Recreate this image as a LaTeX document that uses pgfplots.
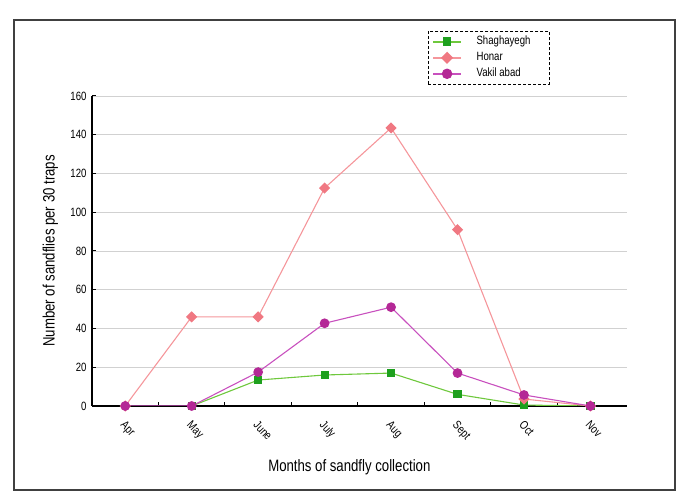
\documentclass[border=0pt]{standalone}
\usepackage{pgfplots}
\pgfplotsset{compat=1.18}
\usepackage{fontspec}
\setmainfont{Liberation Sans}[FakeStretch=0.8]
\definecolor{shagline}{RGB}{110,200,60}
\definecolor{shagmark}{RGB}{30,160,30}
\definecolor{honline}{RGB}{245,150,155}
\definecolor{honmark}{RGB}{240,120,130}
\definecolor{vakline}{RGB}{200,80,190}
\definecolor{vakmark}{RGB}{180,40,150}
\begin{document}
\begin{tikzpicture}[x=1pt,y=1pt]
\useasboundingbox (0,0) rectangle (689,504);
\draw[line width=1.3pt, black!75] (14,14) rectangle (675,484);
\begin{axis}[
  at={(92pt,98pt)}, anchor=south west,
  scale only axis, width=535pt, height=310pt,
  xmin=-0.5, xmax=7.55, ymin=0, ymax=160,
  axis x line*=bottom, axis y line*=left,
  axis line style={black, line width=1.3pt},
  xtick={0,...,7},
  xticklabels={Apr,May,June,July,Aug,Sept,Oct,Nov},
  major x tick style={draw=none},
  minor xtick={0.5,1.5,...,6.5},
  minor x tick style={draw=black, line width=1pt},
  minor tick length=4pt,
  ytick={0,20,...,160},
  major tick length=4pt,
  tick align=inside,
  ytick style={black, line width=1pt},
  ymajorgrids,
  grid style={black!18, line width=0.8pt},
  tick label style={font=\fontsize{12}{14}\selectfont},
  /pgf/number format/assume math mode=true,
  xticklabel style={yshift=-9pt, xshift=1pt, rotate=-47, anchor=north west},
  yticklabel style={xshift=-2pt},
  xlabel={Months of sandfly collection},
  ylabel={Number of sandflies per 30 traps},
  label style={font=\fontsize{16.5}{19}\selectfont},
  xlabel style={at={(axis description cs:0.481,-0.197)}, anchor=center},
  ylabel style={at={(axis description cs:-0.078,0.5)}, anchor=center},
  legend style={at={(0.628,1.2097)}, anchor=north west, draw=black, densely dashed,
    font=\fontsize{12}{14}\selectfont, inner xsep=4pt, inner ysep=3pt,
    nodes={inner sep=1.6pt, solid, text height=9pt, text depth=3pt}, row sep=0.8pt},
  legend cell align=left,
  legend image code/.code={\draw[mark repeat=2, mark phase=2, solid, line width=1.8pt] plot coordinates {(0pt,0pt) (14pt,0pt) (28pt,0pt)};},
]
\addplot[shagline, line width=1.1pt, mark=square*, mark size=3.5pt,
  mark options={draw=shagmark, fill=shagmark}] coordinates {
  (1,0) (2,13.4) (3,16) (4,17) (5,6) (6,0.5) (7,0)};
\addlegendentry{\makebox[80pt][l]{\hspace{13pt}Shaghayegh}}
\addplot[honline, line width=1.1pt, mark=square*, mark size=3.4pt,
  mark options={draw=honmark, fill=honmark, rotate=45}] coordinates {
  (0,0) (1,46) (2,46) (3,112.5) (4,143.5) (5,91) (6,3.6) (7,0)};
\addlegendentry{\makebox[80pt][l]{\hspace{13pt}Honar}}
\addplot[vakline, line width=1.1pt, mark=*, mark size=4.3pt,
  mark options={draw=vakmark, fill=vakmark}] coordinates {
  (0,0) (1,0) (2,17.5) (3,42.7) (4,51) (5,17) (6,5.7) (7,0)};
\addlegendentry{\makebox[80pt][l]{\hspace{13pt}Vakil abad}}
\end{axis}
\end{tikzpicture}
\end{document}
